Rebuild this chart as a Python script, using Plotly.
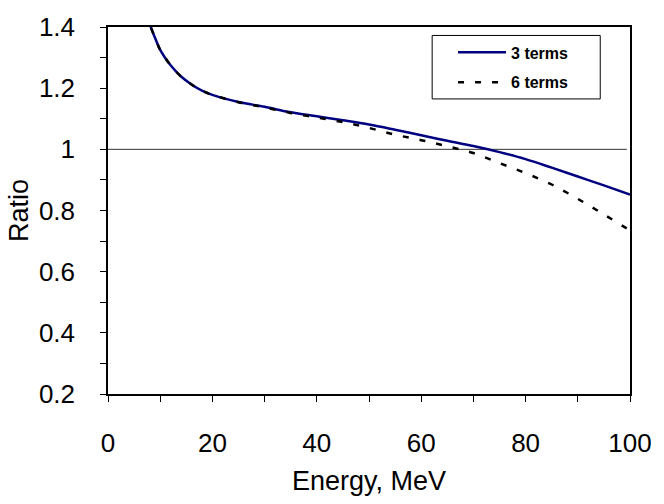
import plotly.graph_objects as go

energy = [7.5, 8, 9, 10, 11, 12, 14, 16, 18, 20, 25, 30, 35, 40, 45, 50, 55, 60, 65, 70, 75, 80, 85, 90, 95, 100]
ratio_3 = [1.45, 1.41, 1.365, 1.325, 1.298, 1.275, 1.238, 1.212, 1.192, 1.178, 1.155, 1.139, 1.121, 1.108, 1.095, 1.081, 1.064, 1.046, 1.028, 1.011, 0.991, 0.968, 0.940, 0.911, 0.882, 0.852]
ratio_6 = [1.45, 1.41, 1.365, 1.325, 1.298, 1.275, 1.238, 1.212, 1.192, 1.178, 1.154, 1.137, 1.119, 1.104, 1.089, 1.070, 1.048, 1.030, 1.010, 0.988, 0.955, 0.922, 0.885, 0.838, 0.787, 0.735]
ref_x = [0, 99.4]
ref_y = [1, 1]
names = ["3 terms", "6 terms"]

FONT = "Liberation Sans, Arial, sans-serif"

fig = go.Figure()
fig.add_trace(go.Scatter(x=ref_x, y=ref_y, mode="lines", line=dict(color="#333333", width=1),
                         showlegend=False, hoverinfo="skip"))
fig.add_trace(go.Scatter(x=energy, y=ratio_3, mode="lines", name=names[0], legendgroup="a",
                         line=dict(color="#000080", width=2.5, shape="spline")))
fig.add_trace(go.Scatter(x=energy, y=ratio_6, mode="lines", name=names[1], legendgroup="b",
                         line=dict(color="#000000", width=2.5, dash="6px,11px", shape="spline")))

axis_common = dict(
    showline=True, linecolor="black", linewidth=1.5, mirror=True,
    ticks="outside", ticklen=6, tickwidth=1, tickcolor="black",
    showgrid=False, zeroline=False,
    tickfont=dict(family=FONT, size=26, color="black"),
)

fig.update_xaxes(range=[0, 100], dtick=20, tick0=0,
                 minor=dict(dtick=10, ticks="outside", ticklen=6, tickcolor="black", showgrid=False),
                 ticklabelstandoff=19,
                 title=dict(text="Energy, MeV", font=dict(family=FONT, size=27, color="black"), standoff=14),
                 **axis_common)
fig.update_yaxes(range=[0.2, 1.4], dtick=0.2, tick0=0.2,
                 minor=dict(dtick=0.1, ticks="outside", ticklen=6, tickcolor="black", showgrid=False),
                 ticklabelstandoff=20,
                 title=dict(text="Ratio", font=dict(family=FONT, size=27, color="black"), standoff=2),
                 **axis_common)

# legend frame
fig.add_shape(type="rect", xref="paper", yref="paper", x0=0.621, x1=0.943, y0=0.804, y1=0.977,
              line=dict(color="black", width=1), fillcolor="white", layer="above")

fig.update_layout(
    width=664, height=504,
    margin=dict(l=108, r=25, t=18, b=110),
    plot_bgcolor="white", paper_bgcolor="white",
    legend=dict(x=0.661, y=0.977, xanchor="left", yanchor="top",
                borderwidth=0, bgcolor="rgba(0,0,0,0)",
                font=dict(family=FONT, size=16, color="black", weight="bold"),
                itemwidth=48, tracegroupgap=6),
)

fig.write_html("out.html")
